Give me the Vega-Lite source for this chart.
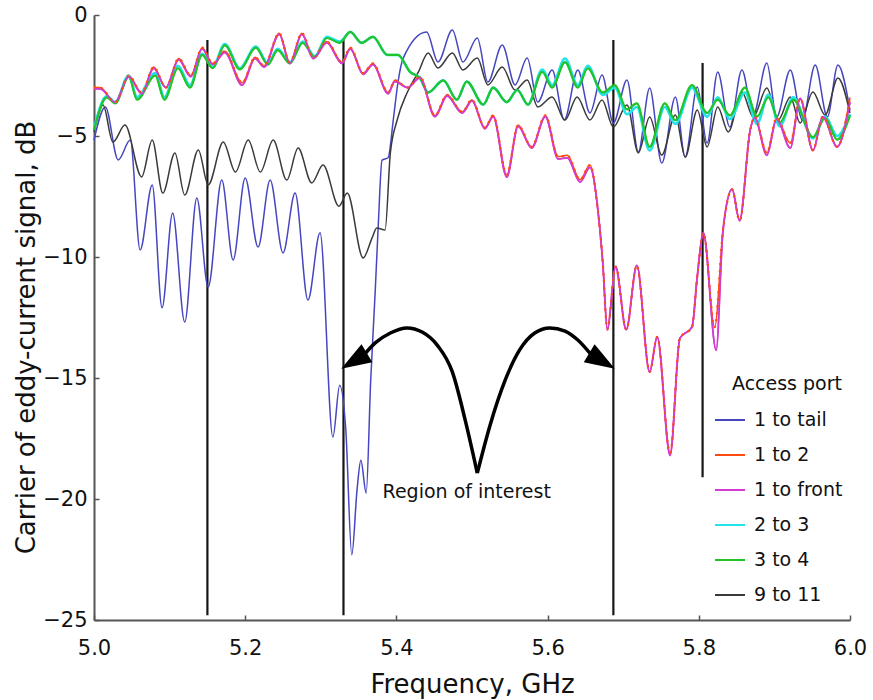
{
  "$schema": "https://vega.github.io/schema/vega-lite/v6.json",
  "width": 756,
  "height": 605,
  "autosize": {"type": "none"},
  "padding": {"left": 94, "top": 15, "right": 23, "bottom": 80},
  "background": "white",
  "config": {"view": {"stroke": null}, "font": "DejaVu Sans", "axis": {"grid": false}},
  "datasets": {
    "curves": [
      {"port":"1 to tail","f":5.000,"v":-5.17},{"port":"1 to tail","f":5.015,"v":-3.8},{"port":"1 to tail","f":5.032,"v":-5.99},{"port":"1 to tail","f":5.048,"v":-5.17},{"port":"1 to tail","f":5.061,"v":-9.71},{"port":"1 to tail","f":5.077,"v":-7.02},{"port":"1 to tail","f":5.090,"v":-12.1},{"port":"1 to tail","f":5.104,"v":-8.18},{"port":"1 to tail","f":5.120,"v":-12.69},{"port":"1 to tail","f":5.136,"v":-7.56},{"port":"1 to tail","f":5.151,"v":-11.24},{"port":"1 to tail","f":5.169,"v":-6.82},{"port":"1 to tail","f":5.184,"v":-10.12},{"port":"1 to tail","f":5.200,"v":-6.74},{"port":"1 to tail","f":5.217,"v":-9.59},{"port":"1 to tail","f":5.233,"v":-6.82},{"port":"1 to tail","f":5.250,"v":-9.83},{"port":"1 to tail","f":5.266,"v":-7.36},{"port":"1 to tail","f":5.283,"v":-11.78},{"port":"1 to tail","f":5.299,"v":-9.0},{"port":"1 to tail","f":5.316,"v":-17.44},{"port":"1 to tail","f":5.325,"v":-15.3},{"port":"1 to tail","f":5.333,"v":-17.1},{"port":"1 to tail","f":5.341,"v":-22.3},{"port":"1 to tail","f":5.348,"v":-19.6},{"port":"1 to tail","f":5.353,"v":-18.4},{"port":"1 to tail","f":5.360,"v":-19.75},{"port":"1 to tail","f":5.366,"v":-15.1},{"port":"1 to tail","f":5.372,"v":-11.4},{"port":"1 to tail","f":5.376,"v":-8.7},{"port":"1 to tail","f":5.381,"v":-6.0},{"port":"1 to tail","f":5.389,"v":-5.9},{"port":"1 to tail","f":5.396,"v":-4.3},{"port":"1 to tail","f":5.402,"v":-2.8},{"port":"1 to tail","f":5.409,"v":-1.78},{"port":"1 to tail","f":5.440,"v":-0.7},{"port":"1 to tail","f":5.455,"v":-1.94},{"port":"1 to tail","f":5.474,"v":-0.62},{"port":"1 to tail","f":5.488,"v":-1.94},{"port":"1 to tail","f":5.507,"v":-0.95},{"port":"1 to tail","f":5.521,"v":-2.77},{"port":"1 to tail","f":5.540,"v":-1.24},{"port":"1 to tail","f":5.557,"v":-2.89},{"port":"1 to tail","f":5.573,"v":-1.78},{"port":"1 to tail","f":5.587,"v":-3.6},{"port":"1 to tail","f":5.606,"v":-2.27},{"port":"1 to tail","f":5.622,"v":-4.34},{"port":"1 to tail","f":5.640,"v":-2.27},{"port":"1 to tail","f":5.656,"v":-4.05},{"port":"1 to tail","f":5.672,"v":-2.48},{"port":"1 to tail","f":5.687,"v":-4.46},{"port":"1 to tail","f":5.705,"v":-2.69},{"port":"1 to tail","f":5.720,"v":-5.66},{"port":"1 to tail","f":5.735,"v":-3.02},{"port":"1 to tail","f":5.751,"v":-6.12},{"port":"1 to tail","f":5.769,"v":-3.39},{"port":"1 to tail","f":5.782,"v":-5.87},{"port":"1 to tail","f":5.798,"v":-2.98},{"port":"1 to tail","f":5.811,"v":-5.29},{"port":"1 to tail","f":5.825,"v":-2.36},{"port":"1 to tail","f":5.841,"v":-4.63},{"port":"1 to tail","f":5.857,"v":-2.27},{"port":"1 to tail","f":5.872,"v":-4.13},{"port":"1 to tail","f":5.890,"v":-1.98},{"port":"1 to tail","f":5.903,"v":-4.21},{"port":"1 to tail","f":5.921,"v":-2.27},{"port":"1 to tail","f":5.937,"v":-4.34},{"port":"1 to tail","f":5.954,"v":-2.07},{"port":"1 to tail","f":5.970,"v":-4.21},{"port":"1 to tail","f":5.984,"v":-2.07},{"port":"1 to tail","f":6.000,"v":-3.93},

      {"port":"1 to 2","f":5.000,"v":-3.0},{"port":"1 to 2","f":5.008,"v":-3.0},{"port":"1 to 2","f":5.028,"v":-3.6},{"port":"1 to 2","f":5.046,"v":-2.5},{"port":"1 to 2","f":5.063,"v":-3.2},{"port":"1 to 2","f":5.079,"v":-2.15},{"port":"1 to 2","f":5.095,"v":-3.0},{"port":"1 to 2","f":5.112,"v":-1.8},{"port":"1 to 2","f":5.128,"v":-2.5},{"port":"1 to 2","f":5.143,"v":-1.35},{"port":"1 to 2","f":5.157,"v":-2.0},{"port":"1 to 2","f":5.173,"v":-1.5},{"port":"1 to 2","f":5.196,"v":-2.8},{"port":"1 to 2","f":5.213,"v":-1.75},{"port":"1 to 2","f":5.225,"v":-2.1},{"port":"1 to 2","f":5.245,"v":-0.75},{"port":"1 to 2","f":5.259,"v":-1.95},{"port":"1 to 2","f":5.275,"v":-0.75},{"port":"1 to 2","f":5.290,"v":-1.75},{"port":"1 to 2","f":5.308,"v":-1.1},{"port":"1 to 2","f":5.328,"v":-1.95},{"port":"1 to 2","f":5.339,"v":-1.35},{"port":"1 to 2","f":5.356,"v":-2.4},{"port":"1 to 2","f":5.369,"v":-2.0},{"port":"1 to 2","f":5.389,"v":-3.2},{"port":"1 to 2","f":5.398,"v":-2.7},{"port":"1 to 2","f":5.415,"v":-3.0},{"port":"1 to 2","f":5.431,"v":-2.55},{"port":"1 to 2","f":5.451,"v":-4.15},{"port":"1 to 2","f":5.467,"v":-3.3},{"port":"1 to 2","f":5.487,"v":-4.0},{"port":"1 to 2","f":5.500,"v":-3.5},{"port":"1 to 2","f":5.517,"v":-4.65},{"port":"1 to 2","f":5.528,"v":-4.15},{"port":"1 to 2","f":5.546,"v":-6.6},{"port":"1 to 2","f":5.561,"v":-4.55},{"port":"1 to 2","f":5.579,"v":-5.45},{"port":"1 to 2","f":5.597,"v":-4.15},{"port":"1 to 2","f":5.614,"v":-5.85},{"port":"1 to 2","f":5.626,"v":-5.8},{"port":"1 to 2","f":5.643,"v":-6.8},{"port":"1 to 2","f":5.656,"v":-6.2},{"port":"1 to 2","f":5.667,"v":-8.2},{"port":"1 to 2","f":5.673,"v":-10.25},{"port":"1 to 2","f":5.679,"v":-13.0},{"port":"1 to 2","f":5.690,"v":-10.4},{"port":"1 to 2","f":5.704,"v":-13.0},{"port":"1 to 2","f":5.718,"v":-10.35},{"port":"1 to 2","f":5.735,"v":-14.75},{"port":"1 to 2","f":5.745,"v":-13.3},{"port":"1 to 2","f":5.762,"v":-18.1},{"port":"1 to 2","f":5.775,"v":-13.35},{"port":"1 to 2","f":5.791,"v":-12.9},{"port":"1 to 2","f":5.798,"v":-10.8},{"port":"1 to 2","f":5.806,"v":-9.0},{"port":"1 to 2","f":5.821,"v":-12.9},{"port":"1 to 2","f":5.832,"v":-8.9},{"port":"1 to 2","f":5.844,"v":-7.2},{"port":"1 to 2","f":5.854,"v":-8.5},{"port":"1 to 2","f":5.868,"v":-4.75},{"port":"1 to 2","f":5.874,"v":-4.2},{"port":"1 to 2","f":5.890,"v":-5.7},{"port":"1 to 2","f":5.903,"v":-4.25},{"port":"1 to 2","f":5.921,"v":-5.3},{"port":"1 to 2","f":5.934,"v":-3.45},{"port":"1 to 2","f":5.951,"v":-5.6},{"port":"1 to 2","f":5.964,"v":-4.2},{"port":"1 to 2","f":5.983,"v":-5.45},{"port":"1 to 2","f":6.000,"v":-3.4},

      {"port":"1 to front","f":5.000,"v":-3.05},{"port":"1 to front","f":5.008,"v":-3.05},{"port":"1 to front","f":5.028,"v":-3.6},{"port":"1 to front","f":5.046,"v":-2.55},{"port":"1 to front","f":5.063,"v":-3.25},{"port":"1 to front","f":5.079,"v":-2.2},{"port":"1 to front","f":5.095,"v":-3.0},{"port":"1 to front","f":5.112,"v":-1.85},{"port":"1 to front","f":5.128,"v":-2.55},{"port":"1 to front","f":5.143,"v":-1.4},{"port":"1 to front","f":5.157,"v":-2.05},{"port":"1 to front","f":5.173,"v":-1.55},{"port":"1 to front","f":5.196,"v":-2.9},{"port":"1 to front","f":5.213,"v":-1.8},{"port":"1 to front","f":5.225,"v":-2.15},{"port":"1 to front","f":5.245,"v":-0.8},{"port":"1 to front","f":5.259,"v":-2.0},{"port":"1 to front","f":5.275,"v":-0.8},{"port":"1 to front","f":5.290,"v":-1.8},{"port":"1 to front","f":5.308,"v":-1.15},{"port":"1 to front","f":5.328,"v":-2.0},{"port":"1 to front","f":5.339,"v":-1.4},{"port":"1 to front","f":5.356,"v":-2.45},{"port":"1 to front","f":5.369,"v":-2.05},{"port":"1 to front","f":5.389,"v":-3.25},{"port":"1 to front","f":5.398,"v":-2.75},{"port":"1 to front","f":5.415,"v":-3.0},{"port":"1 to front","f":5.431,"v":-2.6},{"port":"1 to front","f":5.451,"v":-4.2},{"port":"1 to front","f":5.467,"v":-3.35},{"port":"1 to front","f":5.487,"v":-4.05},{"port":"1 to front","f":5.500,"v":-3.55},{"port":"1 to front","f":5.517,"v":-4.7},{"port":"1 to front","f":5.528,"v":-4.2},{"port":"1 to front","f":5.546,"v":-6.7},{"port":"1 to front","f":5.561,"v":-4.6},{"port":"1 to front","f":5.579,"v":-5.5},{"port":"1 to front","f":5.597,"v":-4.2},{"port":"1 to front","f":5.614,"v":-5.95},{"port":"1 to front","f":5.626,"v":-5.9},{"port":"1 to front","f":5.643,"v":-6.9},{"port":"1 to front","f":5.656,"v":-6.3},{"port":"1 to front","f":5.667,"v":-8.2},{"port":"1 to front","f":5.673,"v":-10.25},{"port":"1 to front","f":5.679,"v":-13.0},{"port":"1 to front","f":5.690,"v":-10.4},{"port":"1 to front","f":5.704,"v":-13.0},{"port":"1 to front","f":5.718,"v":-10.35},{"port":"1 to front","f":5.735,"v":-14.75},{"port":"1 to front","f":5.745,"v":-13.3},{"port":"1 to front","f":5.762,"v":-18.2},{"port":"1 to front","f":5.775,"v":-13.35},{"port":"1 to front","f":5.791,"v":-12.9},{"port":"1 to front","f":5.798,"v":-10.8},{"port":"1 to front","f":5.806,"v":-9.0},{"port":"1 to front","f":5.823,"v":-13.85},{"port":"1 to front","f":5.832,"v":-8.9},{"port":"1 to front","f":5.844,"v":-7.2},{"port":"1 to front","f":5.854,"v":-8.5},{"port":"1 to front","f":5.868,"v":-4.75},{"port":"1 to front","f":5.874,"v":-4.25},{"port":"1 to front","f":5.890,"v":-5.8},{"port":"1 to front","f":5.903,"v":-4.3},{"port":"1 to front","f":5.921,"v":-5.5},{"port":"1 to front","f":5.934,"v":-3.45},{"port":"1 to front","f":5.951,"v":-5.6},{"port":"1 to front","f":5.964,"v":-4.2},{"port":"1 to front","f":5.983,"v":-5.45},{"port":"1 to front","f":6.000,"v":-3.6},

      {"port":"2 to 3","f":5.000,"v":-4.7},{"port":"2 to 3","f":5.017,"v":-3.35},{"port":"2 to 3","f":5.028,"v":-3.6},{"port":"2 to 3","f":5.046,"v":-2.5},{"port":"2 to 3","f":5.057,"v":-3.4},{"port":"2 to 3","f":5.081,"v":-2.4},{"port":"2 to 3","f":5.093,"v":-3.4},{"port":"2 to 3","f":5.111,"v":-2.1},{"port":"2 to 3","f":5.127,"v":-2.9},{"port":"2 to 3","f":5.143,"v":-1.6},{"port":"2 to 3","f":5.157,"v":-2.15},{"port":"2 to 3","f":5.173,"v":-1.2},{"port":"2 to 3","f":5.193,"v":-2.2},{"port":"2 to 3","f":5.214,"v":-1.3},{"port":"2 to 3","f":5.230,"v":-2.0},{"port":"2 to 3","f":5.243,"v":-1.4},{"port":"2 to 3","f":5.259,"v":-1.95},{"port":"2 to 3","f":5.276,"v":-1.1},{"port":"2 to 3","f":5.292,"v":-1.7},{"port":"2 to 3","f":5.308,"v":-0.9},{"port":"2 to 3","f":5.325,"v":-1.1},{"port":"2 to 3","f":5.339,"v":-0.7},{"port":"2 to 3","f":5.354,"v":-1.15},{"port":"2 to 3","f":5.369,"v":-0.9},{"port":"2 to 3","f":5.388,"v":-1.65},{"port":"2 to 3","f":5.402,"v":-1.65},{"port":"2 to 3","f":5.418,"v":-2.35},{"port":"2 to 3","f":5.431,"v":-2.6},{"port":"2 to 3","f":5.442,"v":-3.2},{"port":"2 to 3","f":5.462,"v":-2.7},{"port":"2 to 3","f":5.480,"v":-3.5},{"port":"2 to 3","f":5.493,"v":-2.75},{"port":"2 to 3","f":5.515,"v":-3.7},{"port":"2 to 3","f":5.528,"v":-3.0},{"port":"2 to 3","f":5.546,"v":-3.6},{"port":"2 to 3","f":5.560,"v":-3.1},{"port":"2 to 3","f":5.574,"v":-3.7},{"port":"2 to 3","f":5.593,"v":-2.25},{"port":"2 to 3","f":5.606,"v":-2.9},{"port":"2 to 3","f":5.623,"v":-1.8},{"port":"2 to 3","f":5.640,"v":-2.9},{"port":"2 to 3","f":5.653,"v":-2.1},{"port":"2 to 3","f":5.673,"v":-3.3},{"port":"2 to 3","f":5.689,"v":-3.0},{"port":"2 to 3","f":5.705,"v":-4.1},{"port":"2 to 3","f":5.718,"v":-3.8},{"port":"2 to 3","f":5.735,"v":-5.6},{"port":"2 to 3","f":5.755,"v":-3.8},{"port":"2 to 3","f":5.769,"v":-4.5},{"port":"2 to 3","f":5.791,"v":-3.0},{"port":"2 to 3","f":5.811,"v":-4.2},{"port":"2 to 3","f":5.825,"v":-3.4},{"port":"2 to 3","f":5.841,"v":-4.3},{"port":"2 to 3","f":5.861,"v":-3.2},{"port":"2 to 3","f":5.877,"v":-4.5},{"port":"2 to 3","f":5.892,"v":-3.3},{"port":"2 to 3","f":5.907,"v":-4.6},{"port":"2 to 3","f":5.925,"v":-3.4},{"port":"2 to 3","f":5.951,"v":-5.1},{"port":"2 to 3","f":5.967,"v":-4.2},{"port":"2 to 3","f":5.983,"v":-5.0},{"port":"2 to 3","f":6.000,"v":-4.1},

      {"port":"3 to 4","f":5.000,"v":-4.75},{"port":"3 to 4","f":5.017,"v":-3.4},{"port":"3 to 4","f":5.028,"v":-3.65},{"port":"3 to 4","f":5.046,"v":-2.55},{"port":"3 to 4","f":5.057,"v":-3.5},{"port":"3 to 4","f":5.081,"v":-2.5},{"port":"3 to 4","f":5.093,"v":-3.5},{"port":"3 to 4","f":5.111,"v":-2.2},{"port":"3 to 4","f":5.127,"v":-3.0},{"port":"3 to 4","f":5.143,"v":-1.65},{"port":"3 to 4","f":5.157,"v":-2.2},{"port":"3 to 4","f":5.173,"v":-1.25},{"port":"3 to 4","f":5.193,"v":-2.25},{"port":"3 to 4","f":5.214,"v":-1.35},{"port":"3 to 4","f":5.230,"v":-2.05},{"port":"3 to 4","f":5.243,"v":-1.45},{"port":"3 to 4","f":5.259,"v":-2.0},{"port":"3 to 4","f":5.276,"v":-1.15},{"port":"3 to 4","f":5.292,"v":-1.75},{"port":"3 to 4","f":5.308,"v":-0.95},{"port":"3 to 4","f":5.325,"v":-1.15},{"port":"3 to 4","f":5.339,"v":-0.7},{"port":"3 to 4","f":5.354,"v":-1.15},{"port":"3 to 4","f":5.369,"v":-0.9},{"port":"3 to 4","f":5.388,"v":-1.65},{"port":"3 to 4","f":5.402,"v":-1.65},{"port":"3 to 4","f":5.418,"v":-2.35},{"port":"3 to 4","f":5.431,"v":-2.6},{"port":"3 to 4","f":5.442,"v":-3.2},{"port":"3 to 4","f":5.462,"v":-2.7},{"port":"3 to 4","f":5.480,"v":-3.5},{"port":"3 to 4","f":5.493,"v":-2.75},{"port":"3 to 4","f":5.515,"v":-3.7},{"port":"3 to 4","f":5.528,"v":-3.0},{"port":"3 to 4","f":5.546,"v":-3.6},{"port":"3 to 4","f":5.560,"v":-3.1},{"port":"3 to 4","f":5.574,"v":-3.7},{"port":"3 to 4","f":5.593,"v":-2.35},{"port":"3 to 4","f":5.606,"v":-3.0},{"port":"3 to 4","f":5.623,"v":-1.95},{"port":"3 to 4","f":5.640,"v":-3.0},{"port":"3 to 4","f":5.653,"v":-2.2},{"port":"3 to 4","f":5.673,"v":-3.2},{"port":"3 to 4","f":5.689,"v":-2.9},{"port":"3 to 4","f":5.705,"v":-3.9},{"port":"3 to 4","f":5.718,"v":-3.65},{"port":"3 to 4","f":5.735,"v":-5.45},{"port":"3 to 4","f":5.755,"v":-3.65},{"port":"3 to 4","f":5.769,"v":-4.35},{"port":"3 to 4","f":5.791,"v":-2.9},{"port":"3 to 4","f":5.811,"v":-4.05},{"port":"3 to 4","f":5.825,"v":-3.5},{"port":"3 to 4","f":5.841,"v":-4.15},{"port":"3 to 4","f":5.861,"v":-3.0},{"port":"3 to 4","f":5.877,"v":-4.2},{"port":"3 to 4","f":5.892,"v":-3.4},{"port":"3 to 4","f":5.907,"v":-4.45},{"port":"3 to 4","f":5.925,"v":-3.5},{"port":"3 to 4","f":5.951,"v":-5.05},{"port":"3 to 4","f":5.967,"v":-4.25},{"port":"3 to 4","f":5.983,"v":-5.15},{"port":"3 to 4","f":6.000,"v":-4.15},

      {"port":"9 to 11","f":5.000,"v":-4.83},{"port":"9 to 11","f":5.012,"v":-3.72},{"port":"9 to 11","f":5.025,"v":-5.25},{"port":"9 to 11","f":5.041,"v":-4.55},{"port":"9 to 11","f":5.063,"v":-6.69},{"port":"9 to 11","f":5.077,"v":-5.17},{"port":"9 to 11","f":5.091,"v":-7.36},{"port":"9 to 11","f":5.107,"v":-5.7},{"port":"9 to 11","f":5.120,"v":-7.44},{"port":"9 to 11","f":5.138,"v":-5.58},{"port":"9 to 11","f":5.151,"v":-7.02},{"port":"9 to 11","f":5.171,"v":-5.25},{"port":"9 to 11","f":5.187,"v":-6.49},{"port":"9 to 11","f":5.204,"v":-5.17},{"port":"9 to 11","f":5.220,"v":-6.49},{"port":"9 to 11","f":5.237,"v":-5.17},{"port":"9 to 11","f":5.255,"v":-6.82},{"port":"9 to 11","f":5.270,"v":-5.5},{"port":"9 to 11","f":5.288,"v":-6.94},{"port":"9 to 11","f":5.303,"v":-6.2},{"port":"9 to 11","f":5.324,"v":-7.9},{"port":"9 to 11","f":5.335,"v":-7.36},{"port":"9 to 11","f":5.356,"v":-10.04},{"port":"9 to 11","f":5.368,"v":-9.2},{"port":"9 to 11","f":5.374,"v":-8.8},{"port":"9 to 11","f":5.385,"v":-8.88},{"port":"9 to 11","f":5.392,"v":-5.7},{"port":"9 to 11","f":5.401,"v":-4.34},{"port":"9 to 11","f":5.414,"v":-3.22},{"port":"9 to 11","f":5.429,"v":-2.36},{"port":"9 to 11","f":5.442,"v":-1.57},{"port":"9 to 11","f":5.455,"v":-2.19},{"port":"9 to 11","f":5.474,"v":-1.57},{"port":"9 to 11","f":5.488,"v":-2.27},{"port":"9 to 11","f":5.507,"v":-1.78},{"port":"9 to 11","f":5.521,"v":-2.89},{"port":"9 to 11","f":5.540,"v":-2.15},{"port":"9 to 11","f":5.557,"v":-3.1},{"port":"9 to 11","f":5.573,"v":-2.69},{"port":"9 to 11","f":5.587,"v":-3.8},{"port":"9 to 11","f":5.606,"v":-3.39},{"port":"9 to 11","f":5.623,"v":-4.34},{"port":"9 to 11","f":5.639,"v":-3.39},{"port":"9 to 11","f":5.656,"v":-4.34},{"port":"9 to 11","f":5.672,"v":-3.51},{"port":"9 to 11","f":5.687,"v":-4.63},{"port":"9 to 11","f":5.705,"v":-3.72},{"port":"9 to 11","f":5.720,"v":-5.7},{"port":"9 to 11","f":5.735,"v":-4.21},{"port":"9 to 11","f":5.751,"v":-5.79},{"port":"9 to 11","f":5.769,"v":-4.13},{"port":"9 to 11","f":5.782,"v":-5.87},{"port":"9 to 11","f":5.798,"v":-3.93},{"port":"9 to 11","f":5.811,"v":-5.45},{"port":"9 to 11","f":5.825,"v":-3.8},{"port":"9 to 11","f":5.839,"v":-4.83},{"port":"9 to 11","f":5.857,"v":-3.18},{"port":"9 to 11","f":5.872,"v":-4.21},{"port":"9 to 11","f":5.890,"v":-3.02},{"port":"9 to 11","f":5.905,"v":-4.34},{"port":"9 to 11","f":5.921,"v":-3.39},{"port":"9 to 11","f":5.934,"v":-4.46},{"port":"9 to 11","f":5.951,"v":-3.18},{"port":"9 to 11","f":5.967,"v":-4.13},{"port":"9 to 11","f":5.984,"v":-2.6},{"port":"9 to 11","f":6.000,"v":-4.05}
    ],
    "markers": [
      {"f":5.15,"v":-1.03,"v2":-24.8},
      {"f":5.33,"v":-1.03,"v2":-24.8},
      {"f":5.687,"v":-1.03,"v2":-24.8},
      {"f":5.805,"v":-1.98,"v2":-19.1}
    ],
    "arrow": [
      {"seg":"L","f":5.356,"v":-14.09},{"seg":"L","f":5.372,"v":-13.55},{"seg":"L","f":5.392,"v":-13.14},{"seg":"L","f":5.414,"v":-12.93},{"seg":"L","f":5.434,"v":-13.1},{"seg":"L","f":5.454,"v":-13.64},{"seg":"L","f":5.474,"v":-14.75},{"seg":"L","f":5.491,"v":-16.74},{"seg":"L","f":5.507,"v":-18.93},
      {"seg":"R","f":5.507,"v":-18.93},{"seg":"R","f":5.524,"v":-16.94},{"seg":"R","f":5.544,"v":-15.08},{"seg":"R","f":5.563,"v":-13.84},{"seg":"R","f":5.583,"v":-13.14},{"seg":"R","f":5.603,"v":-12.93},{"seg":"R","f":5.623,"v":-13.06},{"seg":"R","f":5.640,"v":-13.43},{"seg":"R","f":5.659,"v":-14.09}
    ],
    "heads": [
      {"side":"L","f":5.344,"v":-14.3},
      {"side":"R","f":5.672,"v":-14.3}
    ],
    "labels": [
      {"f":5.493,"v":-19.71,"txt":"Region of interest"}
    ]
  },
  "encoding": {
    "x": {"field":"f","type":"quantitative","scale":{"domain":[5,6],"nice":false,"zero":false},
      "axis":{"title":"Frequency, GHz","values":[5,5.2,5.4,5.6,5.8,6],"format":".1f","labelFlush":false,"labelFontSize":21,"titleFontSize":26,"titleFontWeight":"normal","labelColor":"#111","titleColor":"#111","domainColor":"#555","domainWidth":2,"tickColor":"#555","tickWidth":1.5,"tickSize":-5,"labelPadding":22,"titlePadding":13}},
    "y": {"field":"v","type":"quantitative","scale":{"domain":[-25,0],"nice":false,"zero":false},
      "axis":{"title":"Carrier of eddy-current signal, dB","values":[0,-5,-10,-15,-20,-25],"format":"d","labelFlush":false,"labelFontSize":21,"titleFontSize":26,"titleFontWeight":"normal","labelColor":"#111","titleColor":"#111","domainColor":"#555","domainWidth":2,"tickColor":"#555","tickWidth":1.5,"tickSize":-5,"labelPadding":12,"titlePadding":3,"titleY":322}}
  },
  "layer": [
    {
      "data": {"name":"markers"},
      "mark": {"type":"rule","color":"#151515","strokeWidth":2.2},
      "encoding": {"y2": {"field":"v2"}}
    },
    {
      "data": {"name":"curves"},
      "mark": {"type":"line","interpolate":"monotone","strokeWidth":1.5},
      "encoding": {
        "color": {"field":"port","type":"nominal",
          "scale":{"domain":["1 to tail","1 to 2","1 to front","2 to 3","3 to 4","9 to 11"],"range":["#4646c0","#ff4a10","#d23cd2","#22e2ea","#22c42a","#3a3a3a"]},
          "legend":{"orient":"none","legendX":620,"legendY":360,"title":"Access port","titleFontSize":19,"titleFontWeight":"normal","titleColor":"#111","titleAnchor":"end","titlePadding":10,"labelFontSize":19,"labelColor":"#111","symbolType":"stroke","symbolSize":900,"symbolStrokeWidth":2,"rowPadding":9,"labelOffset":8,"padding":0}}
      }
    },
    {
      "data": {"name":"curves"},
      "transform": [{"filter":"datum.port === '2 to 3'"}],
      "mark": {"type":"line","interpolate":"monotone","color":"#22e2ea","strokeWidth":2.6}
    },
    {
      "data": {"name":"curves"},
      "transform": [{"filter":"datum.port === '3 to 4'"}],
      "mark": {"type":"line","interpolate":"monotone","color":"#22c42a","strokeWidth":2.2}
    },
    {
      "data": {"name":"curves"},
      "transform": [{"filter":"datum.port === '1 to front'"}],
      "mark": {"type":"line","interpolate":"monotone","color":"#d23cd2","strokeWidth":1.8}
    },
    {
      "data": {"name":"curves"},
      "transform": [{"filter":"datum.port === '1 to 2'"}],
      "mark": {"type":"line","interpolate":"monotone","color":"#ff4a10","strokeWidth":2.2,"strokeDash":[2,5]}
    },
    {
      "data": {"name":"arrow"},
      "mark": {"type":"line","interpolate":"monotone","color":"#000","strokeWidth":3.5},
      "encoding": {"detail": {"field":"seg"}}
    },
    {
      "data": {"name":"heads"},
      "transform": [{"filter":"datum.side === 'L'"}],
      "mark": {"type":"point","shape":"M0,-1L0.7,1L-0.7,1Z","filled":true,"color":"#000","opacity":1,"size":900,"angle":239}
    },
    {
      "data": {"name":"heads"},
      "transform": [{"filter":"datum.side === 'R'"}],
      "mark": {"type":"point","shape":"M0,-1L0.7,1L-0.7,1Z","filled":true,"color":"#000","opacity":1,"size":900,"angle":121}
    },
    {
      "data": {"name":"labels"},
      "mark": {"type":"text","fontSize":19,"color":"#111","align":"center","baseline":"middle"},
      "encoding": {"text": {"field":"txt"}}
    }
  ]
}
